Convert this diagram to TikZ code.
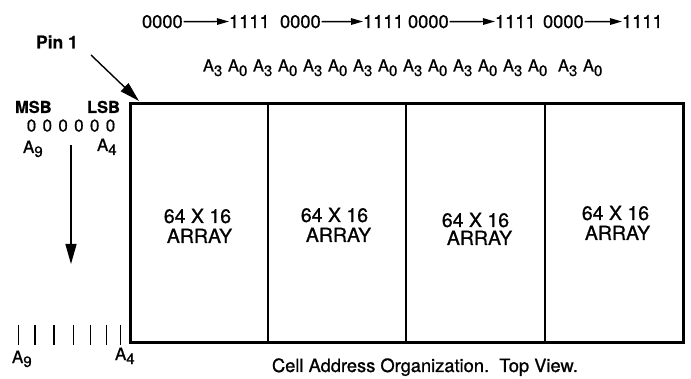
\documentclass[tikz,border=0pt]{standalone}
\usepackage{fontspec}
\setmainfont[FakeBold=0.9]{TeX Gyre Heros}
\newfontfamily\heavyfont[FakeBold=0.6]{TeX Gyre Heros Bold}
\usetikzlibrary{arrows.meta}
\newcommand\lowsub[2]{\raisebox{-#2}{\fontsize{15}{15}\selectfont #1}}
\begin{document}
\begin{tikzpicture}[x=1pt,y=-1pt,
  lbl/.style={inner sep=0pt, outer sep=0pt, anchor=base west},
  clbl/.style={inner sep=0pt, outer sep=0pt, anchor=base, font=\fontsize{19.5}{19.5}\selectfont},
  topfont/.style={font=\fontsize{18.3}{18.3}\selectfont},
  afont/.style={font=\fontsize{16.5}{16.5}\selectfont},
  sidefont/.style={font=\fontsize{17}{17}\selectfont},
  boldside/.style={font=\heavyfont\fontsize{16.5}{16.5}\selectfont},
  toparr/.style={line width=1.4pt, -{Triangle[length=12pt,width=6.5pt]}},
  bigarr/.style={line width=1.4pt, -{Triangle[length=20pt,width=11pt]}},
  tick/.style={line width=1.5pt}
]
\useasboundingbox (0,0) rectangle (691,379);

% top address row
\foreach \i/\xa/\xb in {1/142/229, 2/280/363, 3/408/495, 4/543/622} {
  \node[lbl, topfont] (z\i) at (\xa,28) {0000};
  \node[lbl, topfont] (o\i) at (\xb,28) {1111};
  \draw[toparr] ([xshift=1pt]z\i.east) -- (o\i.west);
}

% A3 A0 row
\foreach \j/\xs in {1/203, 2/253, 3/303, 4/353, 5/403, 6/453, 7/503, 8/558} {
  \node[lbl, afont] (ath\j) at (\xs,71.5) {A\lowsub{3}{4.5pt}};
  \node[lbl, afont] (azr\j) at (\xs+25,71.5) {A\lowsub{0}{4.5pt}};
}

% Pin 1
\node[lbl, font=\heavyfont\fontsize{17.5}{17.5}\selectfont] (pin) at (36,48.3) {Pin 1};
\coordinate (pinfrom) at (91,55);
\coordinate (pinto) at (139,101);
\draw[bigarr] (pinfrom) -- (pinto);

% chip outline
\node[draw, line width=3pt, minimum width=553pt, minimum height=239pt, inner sep=0pt] (chip) at (406.5,223.5) {};
\foreach \x in {268, 406, 545} {
  \draw[line width=1.3pt] (\x,104) -- (\x,343);
}

% cell labels
\node[clbl] (c1a) at (197.5,223) {64 X 16};
\node[clbl] (c1b) at (199.5,243) {ARRAY};
\node[clbl] (c2a) at (334.5,222) {64 X 16};
\node[clbl] (c2b) at (338.5,242) {ARRAY};
\node[clbl] (c3a) at (475.5,227) {64 X 16};
\node[clbl] (c3b) at (479.5,245) {ARRAY};
\node[clbl] (c4a) at (615.5,220) {64 X 16};
\node[clbl] (c4b) at (617.5,240) {ARRAY};

% left side labels
\node[lbl, boldside] (msb) at (15,113) {MSB};
\node[lbl, boldside] (lsb) at (87,113) {LSB};
\foreach \k/\x in {1/31.5, 2/47.3, 3/63.1, 4/78.9, 5/94.7, 6/110.5} {
  \node[inner sep=0pt, anchor=base, sidefont] (bit\k) at (\x,131.5) {0};
}
\node[lbl, sidefont] (a9t) at (23,153) {A\lowsub{9}{4pt}};
\node[lbl, sidefont] (a4t) at (97,151) {A\lowsub{4}{4pt}};

\coordinate (dtop) at (71,145);
\coordinate (dbot) at (71,264);
\draw[bigarr] (dtop) -- (dbot);

% ticks
\foreach \x in {18.3, 35, 54, 73.3, 90.7, 106.7, 120.7} {
  \draw[tick] (\x,325) -- (\x,345);
}
\node[lbl, sidefont] (a9b) at (12,363) {A\lowsub{9}{4pt}};
\node[lbl, sidefont] (a4b) at (115,360) {A\lowsub{4}{4pt}};

% caption
\node[lbl, font=\fontsize{18.3}{18.3}\selectfont] (cap) at (272,372) {Cell Address Organization.\ \ Top View.};
\end{tikzpicture}
\end{document}
